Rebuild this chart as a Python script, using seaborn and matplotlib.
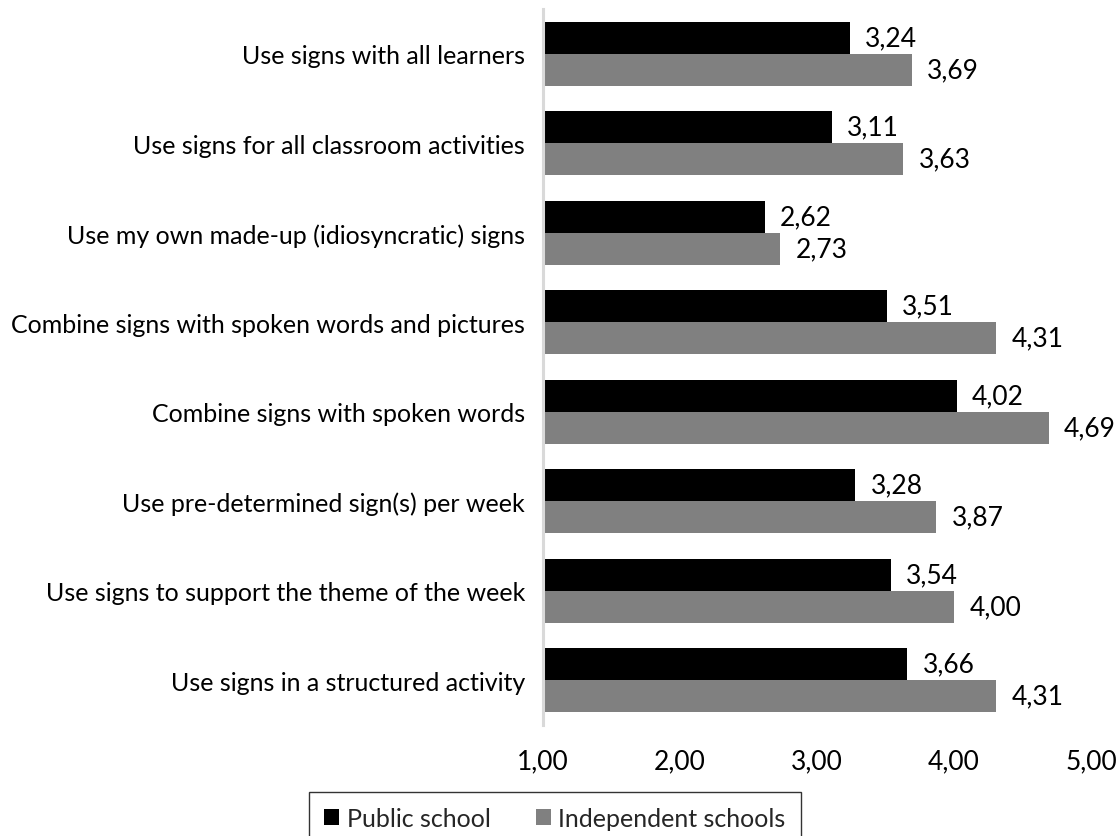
import matplotlib
matplotlib.use("Agg")
import matplotlib.pyplot as plt
import seaborn as sns
import pandas as pd

# Survey items (top to bottom) and mean ratings per school type
items = [
    "Use signs with all learners",
    "Use signs for all classroom activities",
    "Use my own made-up (idiosyncratic) signs",
    "Combine signs with spoken words and pictures",
    "Combine signs with spoken words",
    "Use pre-determined sign(s) per week",
    "Use signs to support the theme of the week",
    "Use signs in a structured activity",
]
public_school = [3.24, 3.11, 2.62, 3.51, 4.02, 3.28, 3.54, 3.66]
independent_schools = [3.69, 3.63, 2.73, 4.31, 4.69, 3.87, 4.00, 4.31]
series_names = ["Public school", "Independent schools"]
x_ticks = [1.0, 2.0, 3.0, 4.0, 5.0]

df = pd.DataFrame({
    "item": items * 2,
    "value": public_school + independent_schools,
    "group": [series_names[0]] * len(items) + [series_names[1]] * len(items),
})

sns.set_theme(style="white")
plt.rcParams["font.family"] = ["Lato", "DejaVu Sans"]
FS_TEXT = 18
FS_NUM = 19

fig = plt.figure(figsize=(11.2, 8.37), dpi=100)
ax = fig.add_axes([543 / 1120, 1 - 726 / 837, 548 / 1120, 716 / 837])

sns.barplot(
    data=df, y="item", x="value", hue="group", orient="h",
    order=items, hue_order=series_names,
    palette=["#000000", "#808080"], width=0.716, saturation=1,
    edgecolor="none", ax=ax, legend=True,
)

ax.set_xlim(1, 5)
ax.set_ylim(len(items) - 0.5, -0.5)
ax.set_xticks(x_ticks)
ax.set_xticklabels([f"{t:.2f}".replace(".", ",") for t in x_ticks])
ax.set_xlabel("")
ax.set_ylabel("")
ax.tick_params(axis="both", length=0, colors="#000000")
ax.tick_params(axis="x", pad=17, labelsize=FS_NUM)
ax.tick_params(axis="y", pad=13, labelsize=FS_TEXT)

for side in ["top", "right", "bottom"]:
    ax.spines[side].set_visible(False)
ax.spines["left"].set_color("#D9D9D9")
ax.spines["left"].set_linewidth(2.2)

for cont in ax.containers:
    ax.bar_label(
        cont, labels=[f"{v:.2f}".replace(".", ",") for v in cont.datavalues],
        padding=11, fontsize=FS_NUM, color="#000000",
    )

handles, labels = ax.get_legend_handles_labels()
ax.get_legend().remove()
leg = fig.legend(
    handles, labels, loc="upper center", bbox_to_anchor=(555 / 1120, 1 - 793 / 837),
    ncol=2, frameon=True, fancybox=False, fontsize=FS_TEXT,
    handlelength=0.6, handleheight=0.6, handletextpad=0.3, columnspacing=1.8,
    borderpad=0.6, borderaxespad=0,
)
leg.get_frame().set_edgecolor("#000000")
leg.get_frame().set_linewidth(1.0)

fig.savefig("out.png", dpi=100)
